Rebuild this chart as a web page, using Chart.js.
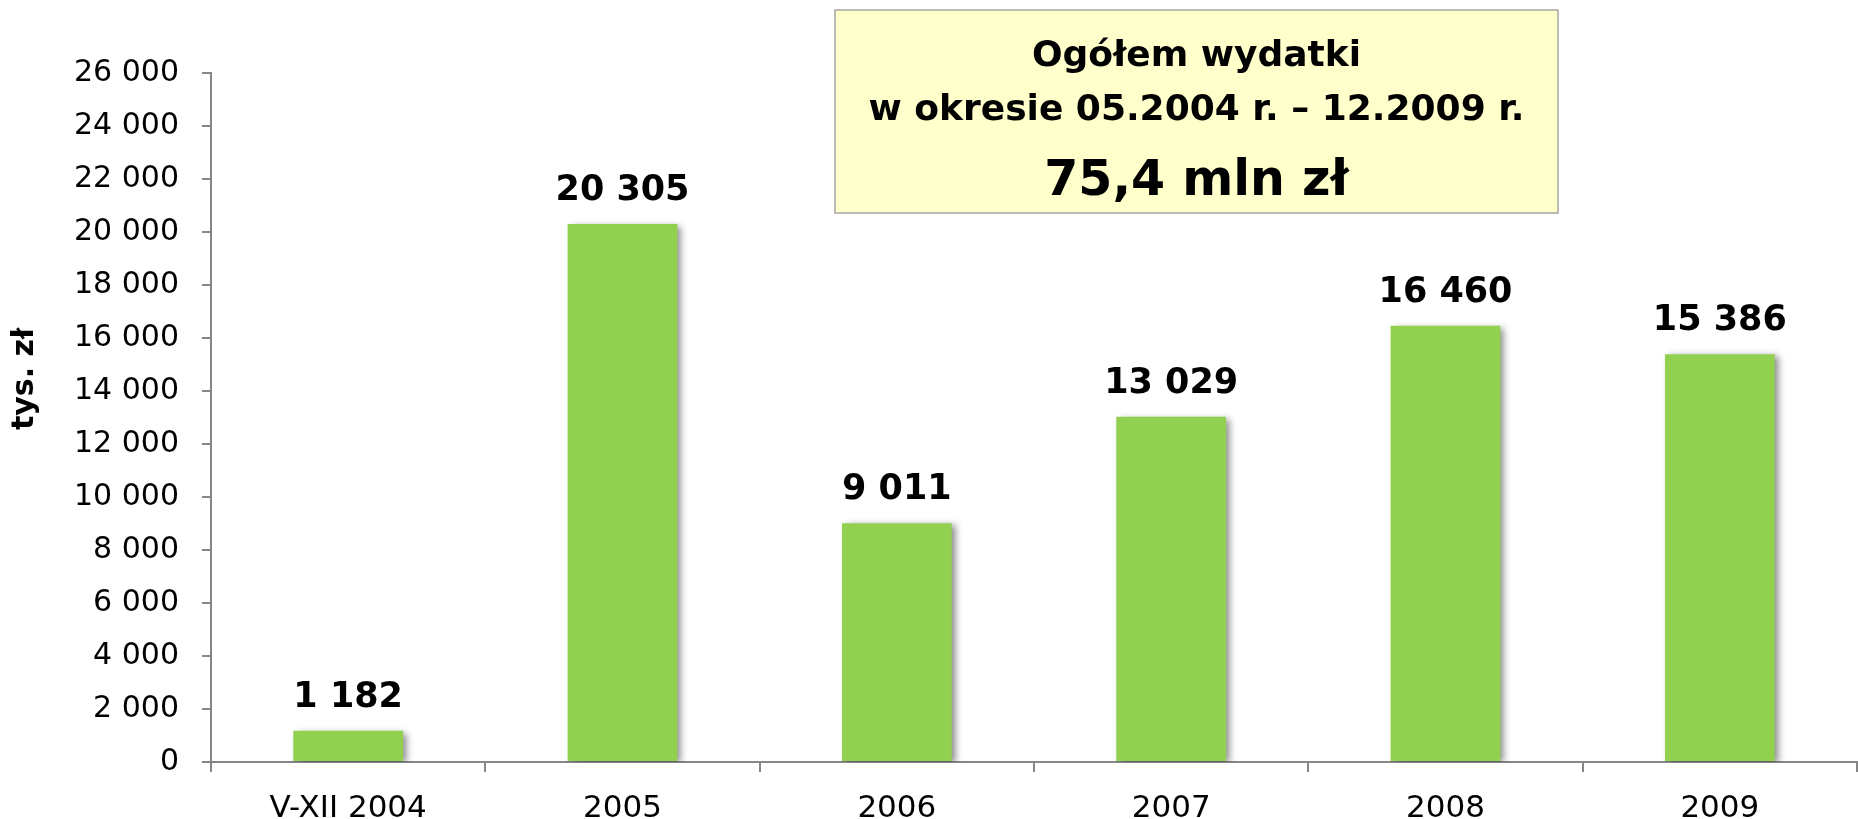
<!DOCTYPE html>
<html>
<head>
<meta charset="utf-8">
<script src="https://cdn.jsdelivr.net/npm/chart.js@4.4.0/dist/chart.umd.min.js"></script>
<style>
    html, body { margin: 0; padding: 0; background: #ffffff; }
    #wrap { width: 1858px; height: 819px; position: relative; }
</style>
</head>
<body>
<div id="wrap"><canvas id="barChart"></canvas></div>
<script>
const CATEGORIES = ['V-XII 2004', '2005', '2006', '2007', '2008', '2009'];
const VALUES = [1182, 20305, 9011, 13029, 16460, 15386];
const Y_TICKS = [0, 2000, 4000, 6000, 8000, 10000, 12000, 14000, 16000, 18000, 20000, 22000, 24000, 26000];
const AXIS_TITLE = 'tys. zł';
const BOX_LINES = ['Ogółem wydatki', 'w okresie 05.2004 r. – 12.2009 r.', '75,4 mln zł'];

const FONT = 'DejaVu Sans';

const COLORS = {
    bar: '#92D050',
    axis: '#868686',
    text: '#000000',
    box: '#FFFFCC',
    boxBorder: '#A6A6A6'
};

function formatNumber(value) {
    return String(value).replace(/\B(?=(\d{3})+(?!\d))/g, ' ');
}

// cień pod słupkami
let shadowPlugin = {
    id: 'barShadow',
    beforeDatasetsDraw: function (chart) {
        let ctx = chart.ctx;
        ctx.save();
        ctx.shadowColor = 'rgba(0, 0, 0, 0.45)';
        ctx.shadowBlur = 7;
        ctx.shadowOffsetX = 4;
        ctx.shadowOffsetY = 2;
    },
    afterDatasetsDraw: function (chart) {
        chart.ctx.restore();
    }
};

let valueLabelsPlugin = {
    id: 'valueLabels',
    afterDatasetsDraw: function (chart) {
        let ctx = chart.ctx;
        let meta = chart.getDatasetMeta(0);
        ctx.save();
        ctx.font = 'bold 35px "' + FONT + '"';
        ctx.fillStyle = COLORS.text;
        ctx.textAlign = 'center';
        ctx.textBaseline = 'alphabetic';
        meta.data.forEach(function (bar, i) {
            ctx.fillText(formatNumber(VALUES[i]), bar.x, bar.y - 24);
        });
        ctx.restore();
    }
};

let extrasPlugin = {
    id: 'extras',
    afterDraw: function (chart) {
        let ctx = chart.ctx;
        ctx.save();

        // tytuł osi Y
        ctx.translate(33, 379);
        ctx.rotate(-Math.PI / 2);
        ctx.font = 'bold 30px "' + FONT + '"';
        ctx.fillStyle = COLORS.text;
        ctx.textAlign = 'center';
        ctx.textBaseline = 'alphabetic';
        ctx.fillText(AXIS_TITLE, 0, 0);
        ctx.restore();

        // ramka z podsumowaniem
        ctx.save();
        let left = 835, top = 10, width = 723, height = 203;
        ctx.fillStyle = COLORS.box;
        ctx.fillRect(left, top, width, height);
        ctx.strokeStyle = COLORS.boxBorder;
        ctx.lineWidth = 1.5;
        ctx.strokeRect(left, top, width, height);
        ctx.fillStyle = COLORS.text;
        ctx.textAlign = 'center';
        ctx.textBaseline = 'alphabetic';
        let cx = left + width / 2;
        ctx.font = 'bold 36px "' + FONT + '"';
        ctx.fillText(BOX_LINES[0], cx, 66);
        ctx.fillText(BOX_LINES[1], cx, 120);
        ctx.font = 'bold 49px "' + FONT + '"';
        ctx.fillText(BOX_LINES[2], cx, 195);
        ctx.restore();
    }
};

function getCanvas() {
    return document.getElementById('barChart').getContext('2d');
}

function createChart() {
    let barData = {
        labels: CATEGORIES,
        datasets: [
            {
                data: VALUES,
                backgroundColor: COLORS.bar,
                borderWidth: 0,
                categoryPercentage: 1.0,
                barPercentage: 0.4
            }
        ]
    };

    let barOptions = {
        responsive: false,
        animation: false,
        maintainAspectRatio: false,
        layout: { padding: { top: 73, right: 1, left: 0, bottom: 0 } },
        plugins: {
            legend: { display: false },
            tooltip: { enabled: false }
        },
        scales: {
            x: {
                grid: {
                    display: true,
                    offset: true,
                    drawOnChartArea: false,
                    drawTicks: true,
                    tickLength: 10,
                    color: COLORS.axis,
                    lineWidth: 2
                },
                border: { display: true, color: COLORS.axis, width: 2 },
                ticks: {
                    color: COLORS.text,
                    font: { family: FONT, size: 31 },
                    padding: 18
                },
                afterFit: function (scale) { scale.height = 57; }
            },
            y: {
                min: 0,
                max: 26000,
                afterBuildTicks: function (scale) {
                    scale.ticks = Y_TICKS.map(function (v) { return { value: v }; });
                },
                grid: {
                    display: true,
                    drawOnChartArea: false,
                    drawTicks: true,
                    tickLength: 9,
                    color: COLORS.axis,
                    lineWidth: 2
                },
                border: { display: true, color: COLORS.axis, width: 2 },
                ticks: {
                    color: COLORS.text,
                    font: { family: FONT, size: 30 },
                    padding: 23,
                    callback: function (value) { return formatNumber(value); }
                },
                afterFit: function (scale) { scale.width = 211; }
            }
        }
    };

    let canvas = document.getElementById('barChart');
    canvas.width = 1858;
    canvas.height = 819;

    return new Chart(getCanvas(), {
        type: 'bar',
        data: barData,
        options: barOptions,
        plugins: [shadowPlugin, valueLabelsPlugin, extrasPlugin]
    });
}

createChart();
</script>
</body>
</html>
